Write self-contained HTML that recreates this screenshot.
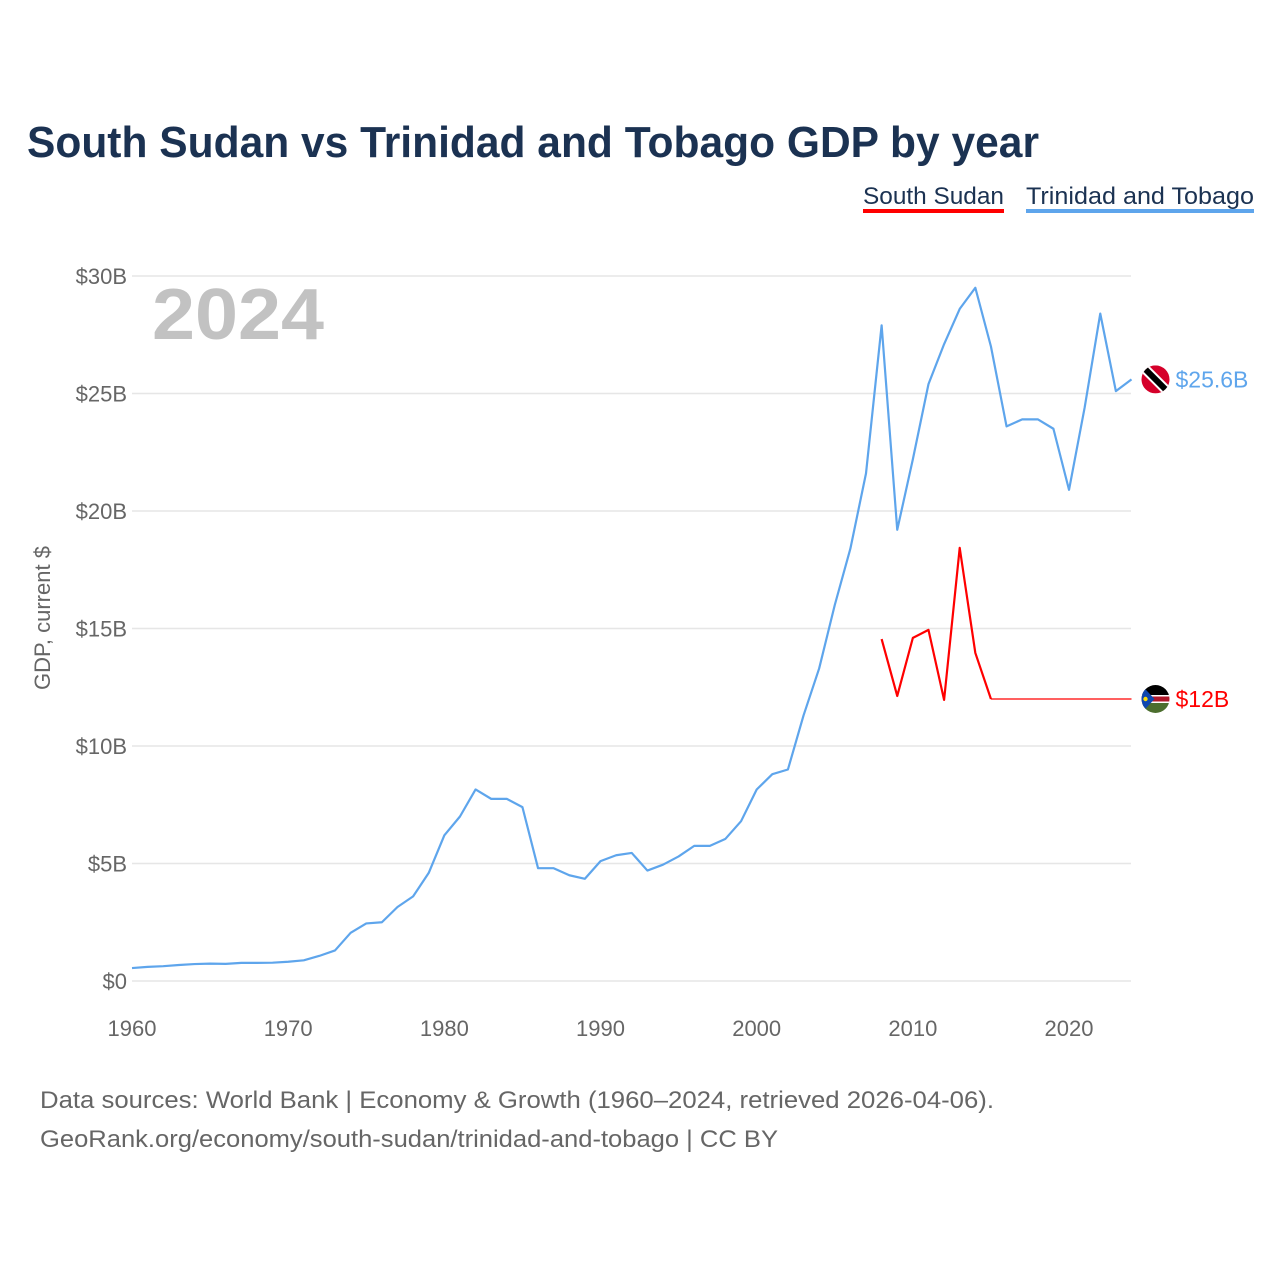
<!DOCTYPE html>
<html><head><meta charset="utf-8"><style>
html,body{margin:0;padding:0;background:#fff;}
svg{display:block;font-family:"Liberation Sans",sans-serif;}
</style></head><body>
<svg id="chart" width="1280" height="1280" viewBox="0 0 1280 1280">
<rect width="1280" height="1280" fill="#fff"/>
<text x="27" y="157" font-size="44" font-weight="bold" fill="#1b3252" textLength="1012" lengthAdjust="spacingAndGlyphs">South Sudan vs Trinidad and Tobago GDP by year</text>
<g>
<g>
<text x="863" y="204" font-size="24" fill="#1b3252" textLength="141" lengthAdjust="spacingAndGlyphs">South Sudan</text>
<rect x="863" y="209" width="141" height="4" fill="#ff0000"/>
</g>
<g>
<text x="1026" y="204" font-size="24" fill="#1b3252" textLength="228" lengthAdjust="spacingAndGlyphs">Trinidad and Tobago</text>
<rect x="1026" y="209" width="228" height="4" fill="#5ea5ec"/>
</g>
</g>
<text x="152" y="339" font-size="72" font-weight="bold" fill="#c2c2c2" textLength="172" lengthAdjust="spacingAndGlyphs">2024</text>
<text transform="translate(50,618) rotate(-90)" text-anchor="middle" font-size="22" fill="#666">GDP, current $</text>
<g id="grid"></g><g id="yticks"></g><g id="xticks"></g><g id="series"></g>
<text x="40" y="1108" font-size="24" fill="#666" textLength="954" lengthAdjust="spacingAndGlyphs">Data sources: World Bank | Economy &amp; Growth (1960–2024, retrieved 2026-04-06).</text>
<text x="40" y="1147" font-size="24" fill="#666" textLength="738" lengthAdjust="spacingAndGlyphs">GeoRank.org/economy/south-sudan/trinidad-and-tobago | CC BY</text>
</svg>
<script>
const yTicks=[0,5,10,15,20,25,30];
const yTickLabels=["$0","$5B","$10B","$15B","$20B","$25B","$30B"];
const xTicks=[1960,1970,1980,1990,2000,2010,2020];
const ttYears=[];for(let y=1960;y<=2024;y++)ttYears.push(y);
const ttValues=[0.55,0.6,0.63,0.68,0.72,0.74,0.73,0.77,0.77,0.78,0.82,0.88,1.07,1.3,2.05,2.45,2.5,3.15,3.6,4.6,6.2,7.0,8.15,7.75,7.75,7.4,4.8,4.8,4.5,4.35,5.1,5.35,5.45,4.7,4.95,5.3,5.75,5.75,6.05,6.8,8.15,8.8,9.0,11.3,13.3,16.0,18.4,21.6,27.9,19.2,22.2,25.4,27.1,28.6,29.5,27.0,23.6,23.9,23.9,23.5,20.9,24.4,28.4,25.1,25.6];
const ssYears=[2008,2009,2010,2011,2012,2013,2014,2015];
const ssValues=[14.55,12.13,14.6,14.94,11.96,18.43,13.96,12.0];
const ssLatest=12.0, ttLatest=25.6, latestYear=2024;
const ssLabel="$12B", ttLabel="$25.6B";

const NS="http://www.w3.org/2000/svg";
const X=y=>132+(y-1960)*(1131.5-132)/64;
const Y=v=>981-v*(981-276)/30;
function mk(tag,attrs,parent){const e=document.createElementNS(NS,tag);for(const k in attrs)e.setAttribute(k,attrs[k]);parent.appendChild(e);return e;}
const grid=document.getElementById('grid'),yt=document.getElementById('yticks'),xt=document.getElementById('xticks'),ser=document.getElementById('series');
yTicks.forEach((v,i)=>{
 const l=mk('line',{x1:132,x2:1131,y1:Y(v),y2:Y(v),stroke:'#e6e6e6','stroke-width':1.5},grid);
 
 
 const t=mk('text',{x:127,y:Y(v)+8,'text-anchor':'end','font-size':22,fill:'#666'},yt);
 t.textContent=yTickLabels[i];
 
 
});
xTicks.forEach(v=>{
 const t=mk('text',{x:X(v),y:1036,'text-anchor':'middle','font-size':22,fill:'#666'},xt);
 t.textContent=v;
 
 
});
const tt=mk('polyline',{points:ttYears.map((y,i)=>X(y)+','+Y(ttValues[i])).join(' '),fill:'none',stroke:'#5ea5ec','stroke-width':2.2,'stroke-linejoin':'round'},ser);


const ss=mk('polyline',{points:ssYears.map((y,i)=>X(y)+','+Y(ssValues[i])).join(' '),fill:'none',stroke:'#ff0000','stroke-width':2.2,'stroke-linejoin':'round'},ser);


const sc=mk('line',{x1:X(ssYears[ssYears.length-1]),y1:Y(ssValues[ssValues.length-1]),x2:X(latestYear),y2:Y(ssLatest),stroke:'#ff0000','stroke-width':1.2},ser);


const fx=X(latestYear)+24;
// Trinidad flag
const tf=mk('g',{},ser);


mk('clipPath',{id:'c1'},tf).appendChild(document.createElementNS(NS,'circle'));
const c1=tf.querySelector('circle');c1.setAttribute('cx',fx);c1.setAttribute('cy',Y(ttLatest));c1.setAttribute('r',14);
const g1=mk('g',{'clip-path':'url(#c1)'},tf);
mk('rect',{x:fx-14,y:Y(ttLatest)-14,width:28,height:28,fill:'#d5002a'},g1);
mk('line',{x1:fx-14,y1:Y(ttLatest)-14,x2:fx+14,y2:Y(ttLatest)+14,stroke:'#fff','stroke-width':10},g1);
mk('line',{x1:fx-14,y1:Y(ttLatest)-14,x2:fx+14,y2:Y(ttLatest)+14,stroke:'#000','stroke-width':6},g1);
const tl=mk('text',{x:fx+20,y:Y(ttLatest)+8,'font-size':23,fill:'#5ea5ec'},ser);
tl.textContent=ttLabel;


// South Sudan flag
const sf=mk('g',{},ser);


const cp=mk('clipPath',{id:'c2'},sf);mk('circle',{cx:fx,cy:Y(ssLatest),r:14},cp);
const g2=mk('g',{'clip-path':'url(#c2)'},sf);
const cy=Y(ssLatest);
mk('rect',{x:fx-14,y:cy-14,width:28,height:10,fill:'#000'},g2);
mk('rect',{x:fx-14,y:cy-4,width:28,height:8,fill:'#fff'},g2);
mk('rect',{x:fx-14,y:cy-2.5,width:28,height:5,fill:'#b0172a'},g2);
mk('rect',{x:fx-14,y:cy+4,width:28,height:10,fill:'#4c6e2e'},g2);
mk('polygon',{points:`${fx-14},${cy-14} ${fx-1},${cy} ${fx-14},${cy+14}`,fill:'#0f47af'},g2);
mk('circle',{cx:fx-10,cy:cy,r:2.2,fill:'#fcdd09'},g2);
const sl=mk('text',{x:fx+20,y:cy+8,'font-size':23,fill:'#ff0000'},ser);
sl.textContent=ssLabel;


</script>
</body></html>
